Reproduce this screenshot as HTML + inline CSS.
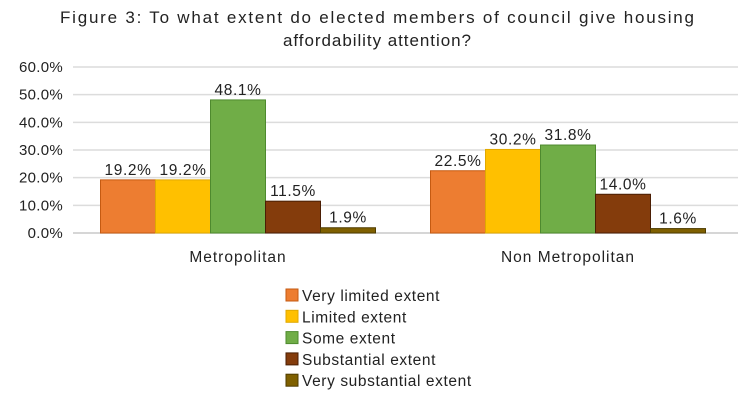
<!DOCTYPE html>
<html><head><meta charset="utf-8"><style>
body{margin:0;background:#fff;}
svg text{font-family:"Liberation Sans","DejaVu Sans",sans-serif;fill:#222;}
</style></head><body>
<svg width="754" height="411" viewBox="0 0 754 411">
<text x="377" y="23" text-anchor="middle" font-size="17" textLength="634" lengthAdjust="spacing">Figure 3: To what extent do elected members of council give housing</text>
<text x="377" y="46" text-anchor="middle" font-size="17" textLength="188" lengthAdjust="spacing">affordability attention?</text>
<g id="grid"></g><g id="bars"></g><g id="legend"></g>
</svg>
<script>
const categories=["Metropolitan","Non Metropolitan"];
const seriesNames=["Very limited extent","Limited extent","Some extent","Substantial extent","Very substantial extent"];
const veryLimited=[19.2,22.5];
const limited=[19.2,30.2];
const some=[48.1,31.8];
const substantial=[11.5,14.0];
const verySubstantial=[1.9,1.6];
const ticks=[0,10,20,30,40,50,60];
const seriesValues=[veryLimited,limited,some,substantial,verySubstantial];
const colors=["#ED7D31","#FFC000","#70AD47","#843C0C","#7F6000"];
const strokes=["#C55A11","#E0A800","#4E8A2E","#4A1E04","#4F3C00"];
const NS="http://www.w3.org/2000/svg";
const x0=73,x1=733,yTop=67,yBot=233,maxV=60;
const y=v=>yBot-(v/maxV)*(yBot-yTop);
const catW=(x1-x0)/categories.length;
const barW=55;
function mk(tag,attrs,parent,text){const e=document.createElementNS(NS,tag);for(const k in attrs)e.setAttribute(k,attrs[k]);if(text!==undefined)e.textContent=text;parent.appendChild(e);return e;}
const grid=document.getElementById('grid'),bars=document.getElementById('bars'),legend=document.getElementById('legend');
ticks.forEach(t=>{
 const l=mk('line',{x1:x0,x2:x1+5,y1:y(t),y2:y(t),stroke:t===0?'#c8c8c8':'#dcdcdc','stroke-width':1.5},grid);
 
 
 const tx=mk('text',{x:63,y:y(t)+5,'text-anchor':'end','font-size':15,'letter-spacing':0.3},grid,t.toFixed(1)+'%');
 
 
});
categories.forEach((c,ci)=>{
 const cx=x0+catW*(ci+0.5);
 const start=cx-barW*seriesValues.length/2;
 seriesValues.forEach((arr,si)=>{
  const v=arr[ci];
  const bx=start+si*barW;
  const r=mk('rect',{x:bx,y:y(v),width:barW,height:yBot-y(v),fill:colors[si],stroke:strokes[si],'stroke-width':1},bars);
  
  
  const lt=mk('text',{x:bx+barW/2,y:y(v)-5,'text-anchor':'middle','font-size':15.5,'letter-spacing':0.6},bars,v.toFixed(1)+'%');
  
  
 });
 const ct=mk('text',{x:cx,y:262,'text-anchor':'middle','font-size':15.5,'letter-spacing':1},bars,c);
 
 
});
seriesNames.forEach((n,i)=>{
 const ly=289+i*21.3;
 const sq=mk('rect',{x:286,y:ly,width:12,height:12,fill:colors[i],stroke:strokes[i],'stroke-width':1},legend);
 
 
 const t=mk('text',{x:302,y:ly+12,'font-size':15.5,'letter-spacing':0.6},legend,n);
 
 
});
</script>
</body></html>
